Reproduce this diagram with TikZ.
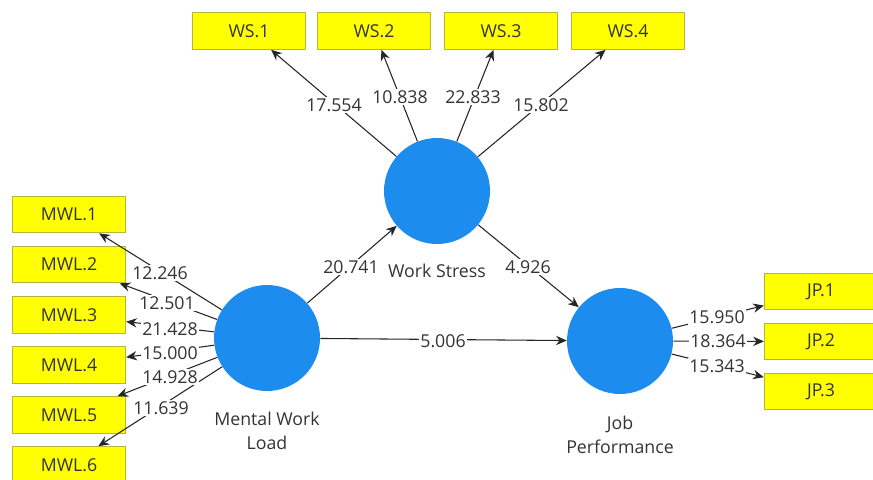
\documentclass[tikz,border=0pt]{standalone}
\usepackage{fontspec}
\setmainfont{Open Sans}
\usetikzlibrary{arrows.meta}
\definecolor{lv}{HTML}{1C8CEE}
\definecolor{ind}{HTML}{FFFF00}
\definecolor{indb}{HTML}{B5B540}
\definecolor{txt}{HTML}{333333}
\definecolor{ln}{HTML}{262626}
\begin{document}
\begin{tikzpicture}[x=0.75pt,y=-0.75pt,
  font=\fontsize{13.3}{17.5}\selectfont, text=txt,
  latent/.style={circle,fill=lv,minimum size=79.5pt,inner sep=0pt},
  indbox/.style={rectangle,fill=ind,draw=indb,line width=0.75pt,minimum width=85pt,minimum height=27.5pt,inner sep=0pt},
  conn/.style={draw=ln,line width=0.8pt,-{Stealth[length=8pt,width=7pt]}},
  wt/.style={fill=white,inner sep=1pt},
  lvcaption/.style={align=center}]
\useasboundingbox (0,0) rectangle (873,479);
% latent variables
\node[latent] (ws) at (437,191) {};
\node[latent] (mwl) at (267,338) {};
\node[latent] (jp) at (620,341) {};
% captions
\node[lvcaption] (wsl) at (437,271) {Work Stress};
\node[lvcaption] (mwll) at (267,431) {Mental Work\\Load};
\node[lvcaption] (jpl) at (620,435) {Job\\Performance};
% indicators
\node[indbox] (ws1) at (249,31) {WS.1};
\node[indbox] (ws2) at (374,31) {WS.2};
\node[indbox] (ws3) at (501,31) {WS.3};
\node[indbox] (ws4) at (628,31) {WS.4};
\node[indbox] (m1) at (69,214.5) {MWL.1};
\node[indbox] (m2) at (69,264.5) {MWL.2};
\node[indbox] (m3) at (69,315) {MWL.3};
\node[indbox] (m4) at (69,365) {MWL.4};
\node[indbox] (m5) at (69,415) {MWL.5};
\node[indbox] (m6) at (69,465) {MWL.6};
\node[indbox] (j1) at (821,291.5) {JP.1};
\node[indbox] (j2) at (821,341.5) {JP.2};
\node[indbox] (j3) at (821,391.5) {JP.3};
% connectors
\draw[conn] (ws) -- (ws1);
\draw[conn] (ws) -- (ws2);
\draw[conn] (ws) -- (ws3);
\draw[conn] (ws) -- (ws4);
\draw[conn] (mwl) -- (m1);
\draw[conn] (mwl) -- (m2);
\draw[conn] (mwl) -- (m3);
\draw[conn] (mwl) -- (m4);
\draw[conn] (mwl) -- (m5);
\draw[conn] (mwl) -- (m6);
\draw[conn] (jp) -- (j1);
\draw[conn] (jp) -- (j2);
\draw[conn] (jp) -- (j3);
\draw[conn] (mwl) -- (ws);
\draw[conn] (ws) -- (jp);
\draw[conn] (mwl) -- (jp);
% weights
\node[wt] (w1) at (334,105) {17.554};
\node[wt] (w2) at (400,97) {10.838};
\node[wt] (w3) at (473,97) {22.833};
\node[wt] (w4) at (541,105) {15.802};
\node[wt] (k1) at (160,273) {12.246};
\node[wt] (k2) at (167,303) {12.501};
\node[wt] (k3) at (170,329) {21.428};
\node[wt] (k4) at (170,353) {15.000};
\node[wt] (k5) at (170,377) {14.928};
\node[wt] (k6) at (161,408) {11.639};
\node[wt] (p1) at (717,317) {15.950};
\node[wt] (p2) at (718,341) {18.364};
\node[wt] (p3) at (717,366) {15.343};
\node[wt] (s1) at (351,267) {20.741};
\node[wt] (s2) at (528,267) {4.926};
\node[wt] (s3) at (443,341) {5.006};
\end{tikzpicture}
\end{document}
